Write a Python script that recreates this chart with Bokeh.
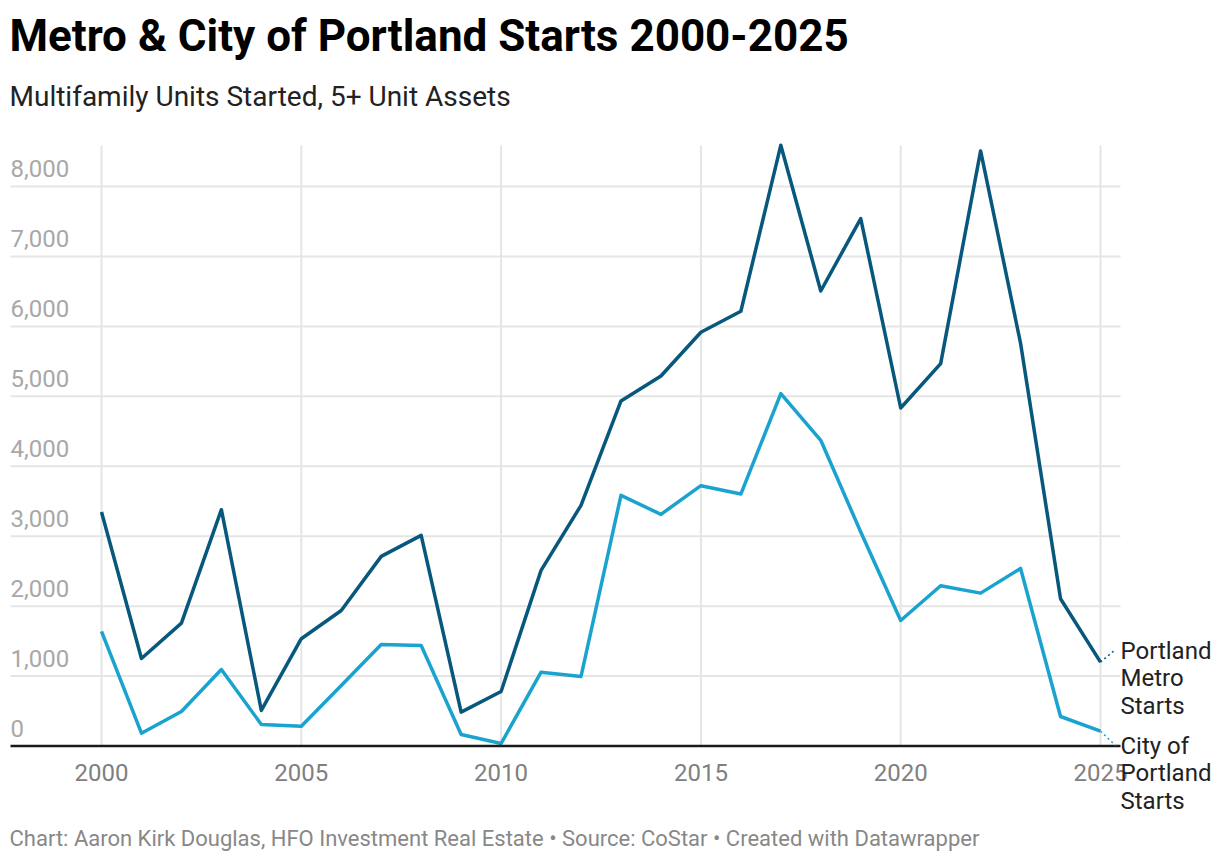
from bokeh.plotting import figure
from bokeh.models import Range1d
from bokeh.core.properties import value
from bokeh.embed import file_html
from bokeh.resources import INLINE

# ---------------- data ----------------
years = list(range(2000, 2026))
metro_starts = [3345, 1252, 1757, 3379, 508, 1534, 1938, 2711, 3011, 484,
                780, 2511, 3441, 4933, 5290, 5916, 6216, 8591, 6506, 7542,
                4833, 5468, 8509, 5758, 2106, 1199]
city_starts = [1638, 183, 494, 1094, 308, 283, 866, 1452, 1438, 165,
               36, 1056, 994, 3584, 3312, 3722, 3602, 5039, 4371, 3059,
               1795, 2292, 2186, 2539, 422, 212]
x_ticks = [2000, 2005, 2010, 2015, 2020, 2025]
x_tick_labels = ["2000", "2005", "2010", "2015", "2020", "2025"]
y_ticks = [0, 1000, 2000, 3000, 4000, 5000, 6000, 7000, 8000]
y_tick_labels = ["0", "1,000", "2,000", "3,000", "4,000", "5,000", "6,000", "7,000", "8,000"]

title_text = "Metro & City of Portland Starts 2000-2025"
subtitle_text = "Multifamily Units Started, 5+ Unit Assets"
footer_text = ("Chart: Aaron Kirk Douglas, HFO Investment Real Estate \u2022 "
               "Source: CoStar \u2022 Created with Datawrapper")
metro_label = ["Portland", "Metro", "Starts"]
city_label = ["City of", "Portland", "Starts"]

# ---------------- layout (screen pixels) ----------------
W, H = 1220, 862
SX_FIRST, SX_LAST = 101.0, 1100.0     # x of first / last year
SY_ZERO, SY_TOP = 745.5, 186.0        # y of 0 and of top tick
PLOT_L, PLOT_R, PLOT_T = 10.0, 1120.0, 145.0

px_per_year = (SX_LAST - SX_FIRST) / (years[-1] - years[0])
px_per_unit = (SY_ZERO - SY_TOP) / y_ticks[-1]
X_START = years[0] - SX_FIRST / px_per_year
X_END = X_START + W / px_per_year
Y_END = SY_ZERO / px_per_unit
Y_START = Y_END - H / px_per_unit


def sx2x(sx):
    return X_START + sx / px_per_year


def sy2y(sy):
    return Y_END - sy / px_per_unit


FONT = "Roboto"
METRO_C = "#08577c"
CITY_C = "#1aa3cf"
GRID_C = "#e5e5e5"
TICK_FS = "24px"

p = figure(width=W, height=H, output_backend="svg", toolbar_location=None,
           x_range=Range1d(X_START, X_END), y_range=Range1d(Y_START, Y_END),
           x_axis_location=None, y_axis_location=None,
           min_border=0, min_border_left=0, min_border_right=0,
           min_border_top=0, min_border_bottom=0)
p.outline_line_color = None
p.background_fill_color = "white"
p.border_fill_color = "white"
p.xgrid.visible = False
p.ygrid.visible = False

# grid lines
gy = y_ticks[1:]
p.segment(x0=[sx2x(PLOT_L)] * len(gy), y0=gy, x1=[sx2x(PLOT_R)] * len(gy), y1=gy,
          line_color=GRID_C, line_width=2)
p.segment(x0=x_ticks, y0=[0] * len(x_ticks), x1=x_ticks, y1=[sy2y(PLOT_T)] * len(x_ticks),
          line_color=GRID_C, line_width=2)

# y tick labels (above grid lines); text is placed by its visual centre
p.text(x=[sx2x(PLOT_L)] * len(y_ticks), y=[t + 18 / px_per_unit for t in y_ticks],
       text=y_tick_labels, text_font=value(FONT), text_font_size=TICK_FS,
       text_color="#a8a8a8", text_align="left", text_baseline="alphabetic")

# lines
p.line(years, city_starts, line_color=CITY_C, line_width=3.5, line_join="round")
p.line(years, metro_starts, line_color=METRO_C, line_width=3.5, line_join="round")

# baseline (x axis)
p.segment(x0=[sx2x(PLOT_L)], y0=[0], x1=[sx2x(PLOT_R)], y1=[0],
          line_color="#1a1a1a", line_width=2.5)

# x tick labels
p.text(x=x_ticks, y=[sy2y(772)] * len(x_ticks), text=x_tick_labels,
       text_font=value(FONT), text_font_size=TICK_FS, text_color="#808080",
       text_align="center", text_baseline="alphabetic")

# connectors
p.segment(x0=[years[-1]], y0=[metro_starts[-1]], x1=[sx2x(1115)], y1=[sy2y(649)],
          line_color=METRO_C, line_width=1.5, line_dash="2 3")
p.segment(x0=[years[-1]], y0=[city_starts[-1]], x1=[sx2x(1115)], y1=[sy2y(745)],
          line_color=CITY_C, line_width=1.5, line_dash="2 3")

# right-hand series labels
p.text(x=[sx2x(1120)] * 3, y=[sy2y(650 + 27.8 * i) for i in range(3)], text=metro_label,
       text_font=value(FONT), text_font_size=TICK_FS, text_color="#222222",
       text_align="left", text_baseline="alphabetic")
p.text(x=[sx2x(1120)] * 3, y=[sy2y(745 + 27.8 * i) for i in range(3)], text=city_label,
       text_font=value(FONT), text_font_size=TICK_FS, text_color="#222222",
       text_align="left", text_baseline="alphabetic")

# title, subtitle, footer
p.text(x=[sx2x(9)], y=[sy2y(35)], text=[title_text], text_font=value(FONT),
       text_font_size="44px", text_font_style="bold", text_color="#000000",
       text_align="left", text_baseline="alphabetic")
p.text(x=[sx2x(9)], y=[sy2y(96)], text=[subtitle_text], text_font=value(FONT),
       text_font_size="28px", text_color="#222222",
       text_align="left", text_baseline="alphabetic")
p.text(x=[sx2x(9)], y=[sy2y(838)], text=[footer_text], text_font=value(FONT),
       text_font_size="22px", text_color="#888888",
       text_align="left", text_baseline="alphabetic")

open("out.html", "w").write(file_html(p, INLINE))
